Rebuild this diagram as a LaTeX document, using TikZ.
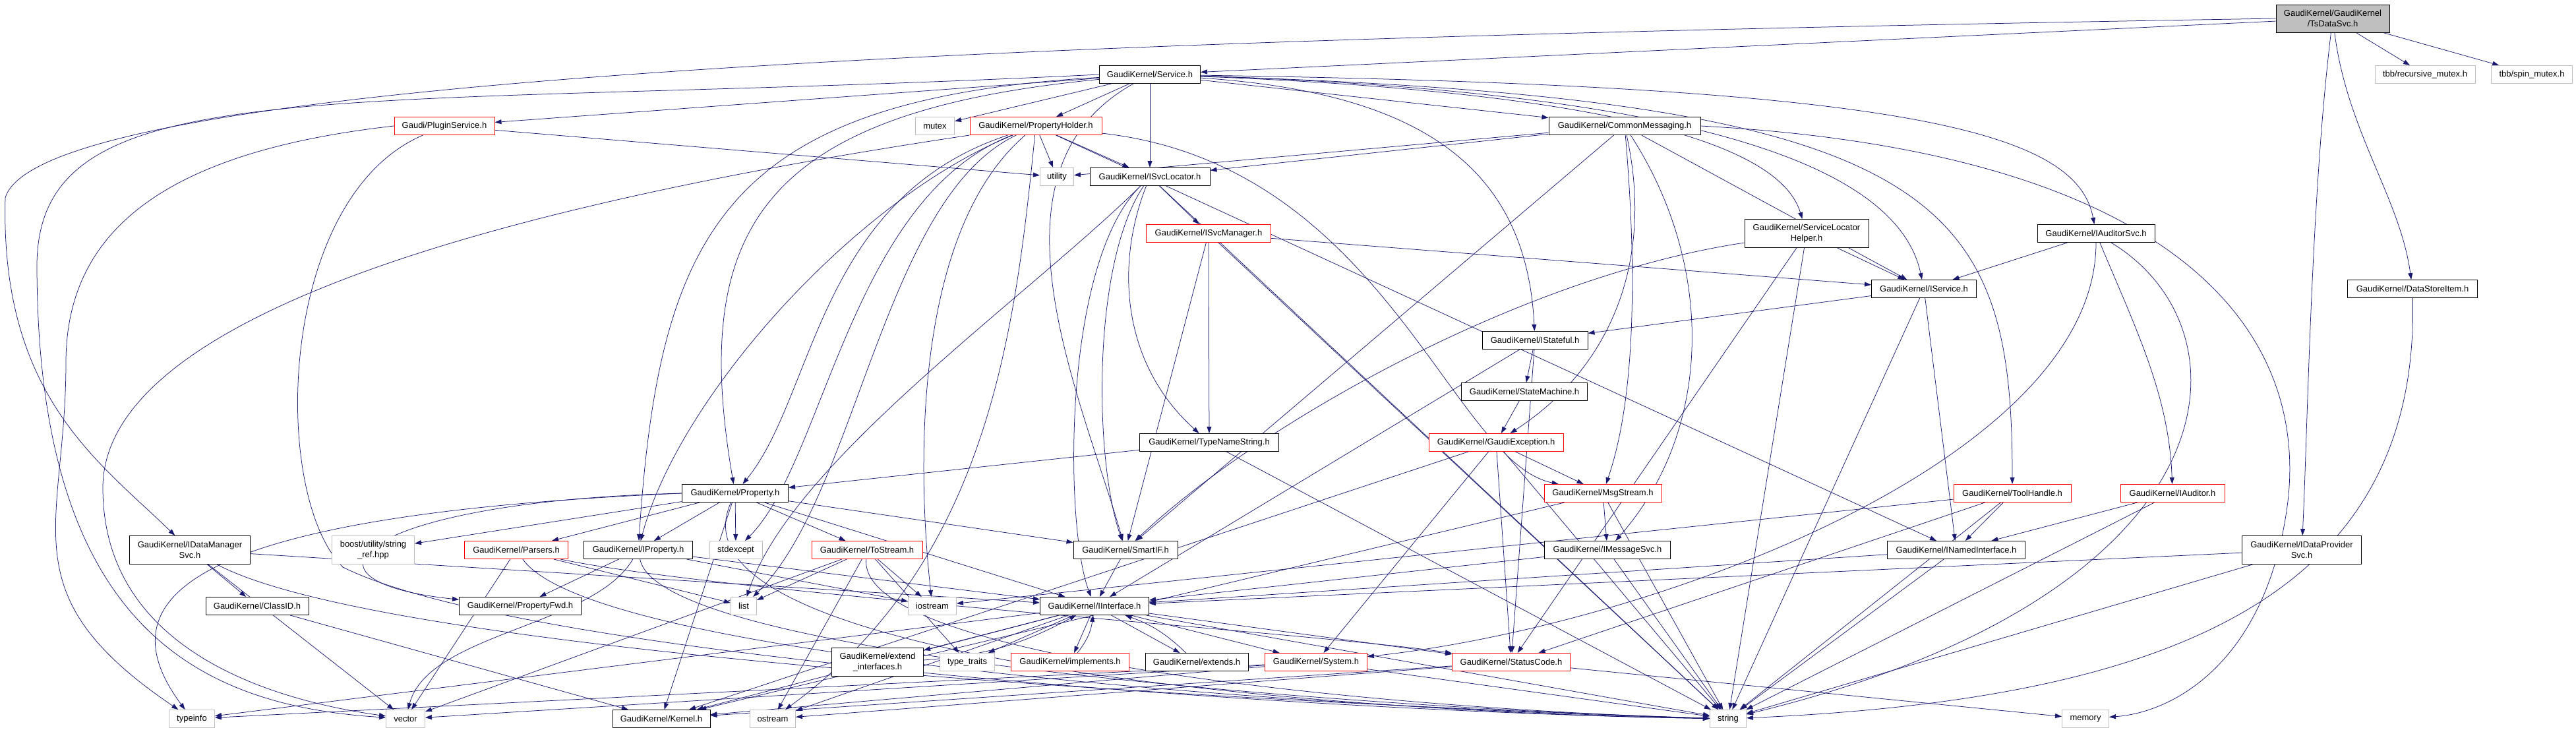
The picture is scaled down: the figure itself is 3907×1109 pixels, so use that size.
\documentclass[tikz,border=0pt]{standalone}
\usepackage{fontspec}
\setmainfont{Liberation Sans}
\usetikzlibrary{arrows.meta}
\definecolor{edgec}{RGB}{25,25,112}
\definecolor{grayb}{RGB}{191,191,191}
\pgfdeclarelayer{background}
\pgfsetlayers{background,main}
\newcommand{\gnode}[7]{\node[#6, minimum width=#4pt, minimum height=#5pt] (#1) at (#2,#3) {#7};}
\begin{document}
\begin{tikzpicture}[x=1pt,y=-1pt,
 nb/.style={draw=black, fill=white, line width=1pt, inner sep=0pt, align=center, font=\fontsize{13}{15.5}\selectfont},
 nr/.style={nb, draw=red},
 ng/.style={nb, draw=grayb},
 nt/.style={nb, fill=grayb},
 e/.style={draw=edgec, line width=0.75pt, -{Triangle[length=10pt,width=7pt]}}]
\useasboundingbox (0,0) rectangle (3907,1109);
\gnode{ts}{3538}{28}{172}{42}{nt}{GaudiKernel/GaudiKernel\\/TsDataSvc.h}
\gnode{svc}{1744}{113}{153}{27}{nb}{GaudiKernel/Service.h}
\gnode{tbbr}{3678}{113}{152}{27}{ng}{tbb/recursive\_mutex.h}
\gnode{tbbs}{3840}{113}{123}{27}{ng}{tbb/spin\_mutex.h}
\gnode{plug}{674}{191}{152}{27}{nr}{Gaudi/PluginService.h}
\gnode{mutex}{1418}{191}{59}{27}{ng}{mutex}
\gnode{ph}{1571}{191}{200}{27}{nr}{GaudiKernel/PropertyHolder.h}
\gnode{cm}{2464}{191}{230}{27}{nb}{GaudiKernel/CommonMessaging.h}
\gnode{util}{1603}{268}{51}{27}{ng}{utility}
\gnode{svcloc}{1744}{268}{182}{27}{nb}{GaudiKernel/ISvcLocator.h}
\gnode{svcmgr}{1833}{354}{189}{27}{nr}{GaudiKernel/ISvcManager.h}
\gnode{slh}{2740}{354}{188}{43}{nb}{GaudiKernel/ServiceLocator\\Helper.h}
\gnode{audsvc}{3179}{354}{178}{27}{nb}{GaudiKernel/IAuditorSvc.h}
\gnode{isvc}{2918}{438}{159}{27}{nb}{GaudiKernel/IService.h}
\gnode{dsi}{3659}{438}{197}{27}{nb}{GaudiKernel/DataStoreItem.h}
\gnode{istate}{2328}{516}{160}{27}{nb}{GaudiKernel/IStateful.h}
\gnode{sm}{2312}{594}{191}{27}{nb}{GaudiKernel/StateMachine.h}
\gnode{tns}{1834}{671}{211}{27}{nb}{GaudiKernel/TypeNameString.h}
\gnode{gex}{2269}{671}{204}{27}{nr}{GaudiKernel/GaudiException.h}
\gnode{prop}{1115}{748}{161}{27}{nb}{GaudiKernel/Property.h}
\gnode{msg}{2431}{748}{178}{27}{nr}{GaudiKernel/MsgStream.h}
\gnode{tool}{3052}{748}{178}{27}{nr}{GaudiKernel/ToolHandle.h}
\gnode{iaud}{3295}{748}{158}{27}{nr}{GaudiKernel/IAuditor.h}
\gnode{idm}{288}{834}{183}{43}{nb}{GaudiKernel/IDataManager\\Svc.h}
\gnode{boost}{566}{834}{125}{43}{ng}{boost/utility/string\\\_ref.hpp}
\gnode{pars}{783}{834}{157}{27}{nr}{GaudiKernel/Parsers.h}
\gnode{iprop}{968}{834}{165}{27}{nb}{GaudiKernel/IProperty.h}
\gnode{stdexc}{1116}{834}{80}{27}{ng}{stdexcept}
\gnode{tostr}{1315}{834}{168}{27}{nr}{GaudiKernel/ToStream.h}
\gnode{smart}{1707}{834}{158}{27}{nb}{GaudiKernel/SmartIF.h}
\gnode{imsg}{2438}{834}{191}{27}{nb}{GaudiKernel/IMessageSvc.h}
\gnode{inamed}{2967}{834}{209}{27}{nb}{GaudiKernel/INamedInterface.h}
\gnode{idp}{3491}{834}{181}{43}{nb}{GaudiKernel/IDataProvider\\Svc.h}
\gnode{clsid}{390}{919}{156}{27}{nb}{GaudiKernel/ClassID.h}
\gnode{pfwd}{789}{919}{185}{27}{nb}{GaudiKernel/PropertyFwd.h}
\gnode{list}{1128}{919}{39}{27}{ng}{list}
\gnode{iostr}{1414}{919}{73}{27}{ng}{iostream}
\gnode{iint}{1660}{919}{165}{27}{nb}{GaudiKernel/IInterface.h}
\gnode{extif}{1331}{1004}{139}{43}{nb}{GaudiKernel/extend\\\_interfaces.h}
\gnode{tt}{1467}{1004}{83}{27}{ng}{type\_traits}
\gnode{impl}{1623}{1004}{179}{27}{nr}{GaudiKernel/implements.h}
\gnode{ext}{1815}{1004}{156}{27}{nb}{GaudiKernel/extends.h}
\gnode{sys}{1996}{1004}{155}{27}{nr}{GaudiKernel/System.h}
\gnode{sc}{2292}{1004}{179}{27}{nr}{GaudiKernel/StatusCode.h}
\gnode{typeinfo}{291}{1090}{69}{27}{ng}{typeinfo}
\gnode{vector}{615}{1090}{59}{27}{ng}{vector}
\gnode{kernel}{1003}{1090}{148}{27}{nb}{GaudiKernel/Kernel.h}
\gnode{ostr}{1172}{1090}{69}{27}{ng}{ostream}
\gnode{string}{2621}{1090}{55}{27}{ng}{string}
\gnode{memory}{3163}{1090}{71}{27}{ng}{memory}
\begin{pgfonlayer}{background}
% TsDataSvc
\draw[e] (ts) -- (svc);
\draw[e] (ts.west) .. controls (1500,60) and (60,120) .. (8,300) .. controls (0,600) and (150,700) .. (idm);
\draw[e] (ts) .. controls (3505,300) and (3500,650) .. (idp);
\draw[e] (ts) .. controls (3560,200) and (3640,300) .. (dsi);
\draw[e] (ts) -- (tbbr);
\draw[e] (ts) -- (tbbs);
% Service
\draw[e] (svc) -- (plug);
\draw[e] (svc) -- (mutex);
\draw[e] (svc) -- (ph);
\draw[e] (svc) -- (svcloc);
\draw[e] (svc) -- (cm);
\draw[e] (svc) .. controls (2450,140) and (2700,220) .. (slh);
\draw[e] (svc) .. controls (2600,140) and (2880,260) .. (isvc);
\draw[e] (svc) .. controls (2900,130) and (3150,200) .. (audsvc);
\draw[e] (svc) .. controls (2150,140) and (2315,250) .. (istate);
\draw[e] (svc) .. controls (2950,150) and (3052,300) .. (tool);
\draw[e] (svc) .. controls (1150,170) and (1047,350) .. (prop);
\draw[e] (svc) .. controls (1100,150) and (1000,350) .. (iprop);
\draw[e] (svc) .. controls (1480,260) and (1640,600) .. (smart);
\draw[e] (svc.west) .. controls (500,170) and (60,100) .. (56,400) .. controls (56,950) and (300,1070) .. (vector);
% PluginService
\draw[e] (plug) -- (util);
\draw[e] (plug.west) .. controls (250,230) and (100,350) .. (100,550) .. controls (100,800) and (10,900) .. (typeinfo);
\draw[e] (plug) .. controls (420,300) and (410,750) .. (520,860) .. controls (800,1000) and (2000,1080) .. (string);
% PropertyHolder
\draw[e] (ph) -- (util);
\draw[e] (ph) -- (svcloc);
\draw[e] (ph) .. controls (1240,300) and (1236,600) .. (prop);
\draw[e] (ph) .. controls (1300,300) and (1030,600) .. (iprop);
\draw[e] (ph) .. controls (1290,300) and (1250,700) .. (stdexc);
\draw[e] (ph) .. controls (1387,350) and (1390,700) .. (iostr);
\draw[e] (ph) .. controls (1340,300) and (1300,750) .. (list);
\draw[e] (ph.south west) .. controls (900,290) and (156,450) .. (156,740) .. controls (156,980) and (400,1060) .. (vector);
\draw[e] (ph) -- (inamed);
\draw[e] (ph) .. controls (2100,250) and (2200,700) .. (msg);
\draw[e] (ph) .. controls (1540,500) and (1500,850) .. (ostr);
% ISvcLocator
\draw[e] (svcloc) -- (svcmgr);
\draw[e] (svcloc) .. controls (1692,400) and (1700,550) .. (tns);
\draw[e] (svcloc) .. controls (1655,400) and (1660,700) .. (smart);
\draw[e] (svcloc) .. controls (1610,400) and (1615,800) .. (iint);
\draw[e] (svcloc) .. controls (1560,450) and (1200,700) .. (list);
\draw[e] (svcloc) -- (string);
% ISvcManager
\draw[e] (svcmgr) -- (isvc);
\draw[e] (svcmgr) -- (tns);
\draw[e] (svcmgr) -- (smart);
\draw[e] (svcmgr) -- (string);
% CommonMessaging
\draw[e] (cm) -- (util);
\draw[e] (cm) -- (svcloc);
\draw[e] (cm) -- (smart);
\draw[e] (cm) .. controls (2482,400) and (2482,600) .. (msg);
\draw[e] (cm) .. controls (2510,400) and (2440,560) .. (gex);
\draw[e] (cm) .. controls (2600,400) and (2600,650) .. (imsg);
\draw[e] (cm) -- (isvc);
\draw[e] (cm.east) .. controls (3300,230) and (3500,500) .. (3470,760) .. controls (3440,1000) and (3300,1080) .. (memory);
% ServiceLocatorHelper
\draw[e] (slh) -- (isvc);
\draw[e] (slh) .. controls (2300,420) and (1900,650) .. (smart);
\draw[e] (slh) -- (sc);
\draw[e] (slh) -- (string);
% IAuditorSvc
\draw[e] (audsvc) -- (isvc);
\draw[e] (audsvc) .. controls (3240,500) and (3290,600) .. (iaud);
\draw[e] (audsvc) .. controls (3179,700) and (2500,950) .. (sys);
\draw[e] (audsvc) .. controls (3420,500) and (3400,900) .. (string);
% IService
\draw[e] (isvc) -- (istate);
\draw[e] (isvc) -- (inamed);
\draw[e] (isvc) -- (string);
\draw[e] (dsi) .. controls (3670,900) and (3300,1060) .. (string);
% IStateful etc
\draw[e] (istate) -- (sm);
\draw[e] (istate) -- (iint);
\draw[e] (istate) -- (sc);
\draw[e] (sm) -- (gex);
\draw[e] (tns) -- (prop);
\draw[e] (tns) -- (string);
% GaudiException
\draw[e] (gex) -- (msg);
\draw[e] (gex) -- (sc);
\draw[e] (gex) -- (sys);
\draw[e] (gex) -- (kernel);
\draw[e] (gex) -- (string);
% MsgStream
\draw[e] (msg) -- (imsg);
\draw[e] (msg) -- (string);
\draw[e] (msg) -- (kernel);
% ToolHandle
\draw[e] (tool) -- (inamed);
\draw[e] (tool) -- (iostr);
\draw[e] (tool) -- (string);
\draw[e] (tool) -- (sc);
\draw[e] (iaud) -- (inamed);
\draw[e] (iaud) -- (string);
% Property
\draw[e] (prop) -- (iprop);
\draw[e] (prop) -- (stdexc);
\draw[e] (prop) -- (tostr);
\draw[e] (prop) -- (smart);
\draw[e] (prop) -- (iint);
\draw[e] (prop) -- (boost);
\draw[e] (prop) -- (pars);
\draw[e] (prop.west) .. controls (300,780) and (150,900) .. (typeinfo);
\draw[e] (prop.west) .. controls (550,760) and (420,880) .. (pfwd);
\draw[e] (prop) -- (kernel);
\draw[e] (prop) .. controls (1000,1000) and (2000,1080) .. (string);
% IProperty
\draw[e] (iprop) -- (pfwd);
\draw[e] (iprop) -- (iint);
\draw[e] (iprop) .. controls (900,950) and (650,960) .. (vector);
\draw[e] (iprop) -- (iostr);
\draw[e] (iprop) .. controls (1000,1000) and (2100,1075) .. (string);
% Parsers
\draw[e] (pars) -- (vector);
\draw[e] (pars) -- (list);
\draw[e] (pars) .. controls (900,1000) and (2000,1075) .. (string);
\draw[e] (pars) .. controls (1100,900) and (2000,960) .. (sc);
% ToStream
\draw[e] (tostr) -- (list);
\draw[e] (tostr) -- (iostr);
\draw[e] (tostr) -- (tt);
\draw[e] (tostr) -- (vector);
\draw[e] (tostr) -- (ostr);
\draw[e] (tostr) .. controls (1300,1000) and (2100,1075) .. (string);
% interfaces
\draw[e] (smart) -- (iint);
\draw[e] (imsg) -- (iint);
\draw[e] (imsg) -- (string);
\draw[e] (inamed) -- (iint);
\draw[e] (inamed) -- (string);
\draw[e] (idp) -- (iint);
\draw[e] (idp) -- (string);
\draw[e] (idm) -- (iint);
\draw[e] (idm) -- (clsid);
\draw[e] (idm) -- (vector);
\draw[e] (idm) .. controls (600,1000) and (2000,1070) .. (string);
\draw[e] (clsid) -- (kernel);
% IInterface
\draw[e] (iint) -- (extif);
\draw[e] (iint) -- (tt);
\draw[e] (iint) -- (impl);
\draw[e] (iint) -- (ext);
\draw[e] (iint) -- (sys);
\draw[e] (iint) -- (sc);
\draw[e] (iint) -- (kernel);
\draw[e] (iint) -- (ostr);
\draw[e] (iint) -- (string);
\draw[e] (iint) -- (typeinfo);
\draw[e] (extif) to[bend right=12] (iint);
\draw[e] (impl) to[bend right=15] (iint);
\draw[e] (ext) to[bend right=12] (iint);
% System, StatusCode
\draw[e] (sys) -- (kernel);
\draw[e] (sys) -- (string);
\draw[e] (sys) -- (typeinfo);
\draw[e] (sys) -- (vector);
\draw[e] (sc) -- (kernel);
\draw[e] (sc) -- (ostr);
\draw[e] (sc) -- (memory);
\end{pgfonlayer}
\end{tikzpicture}
\end{document}
